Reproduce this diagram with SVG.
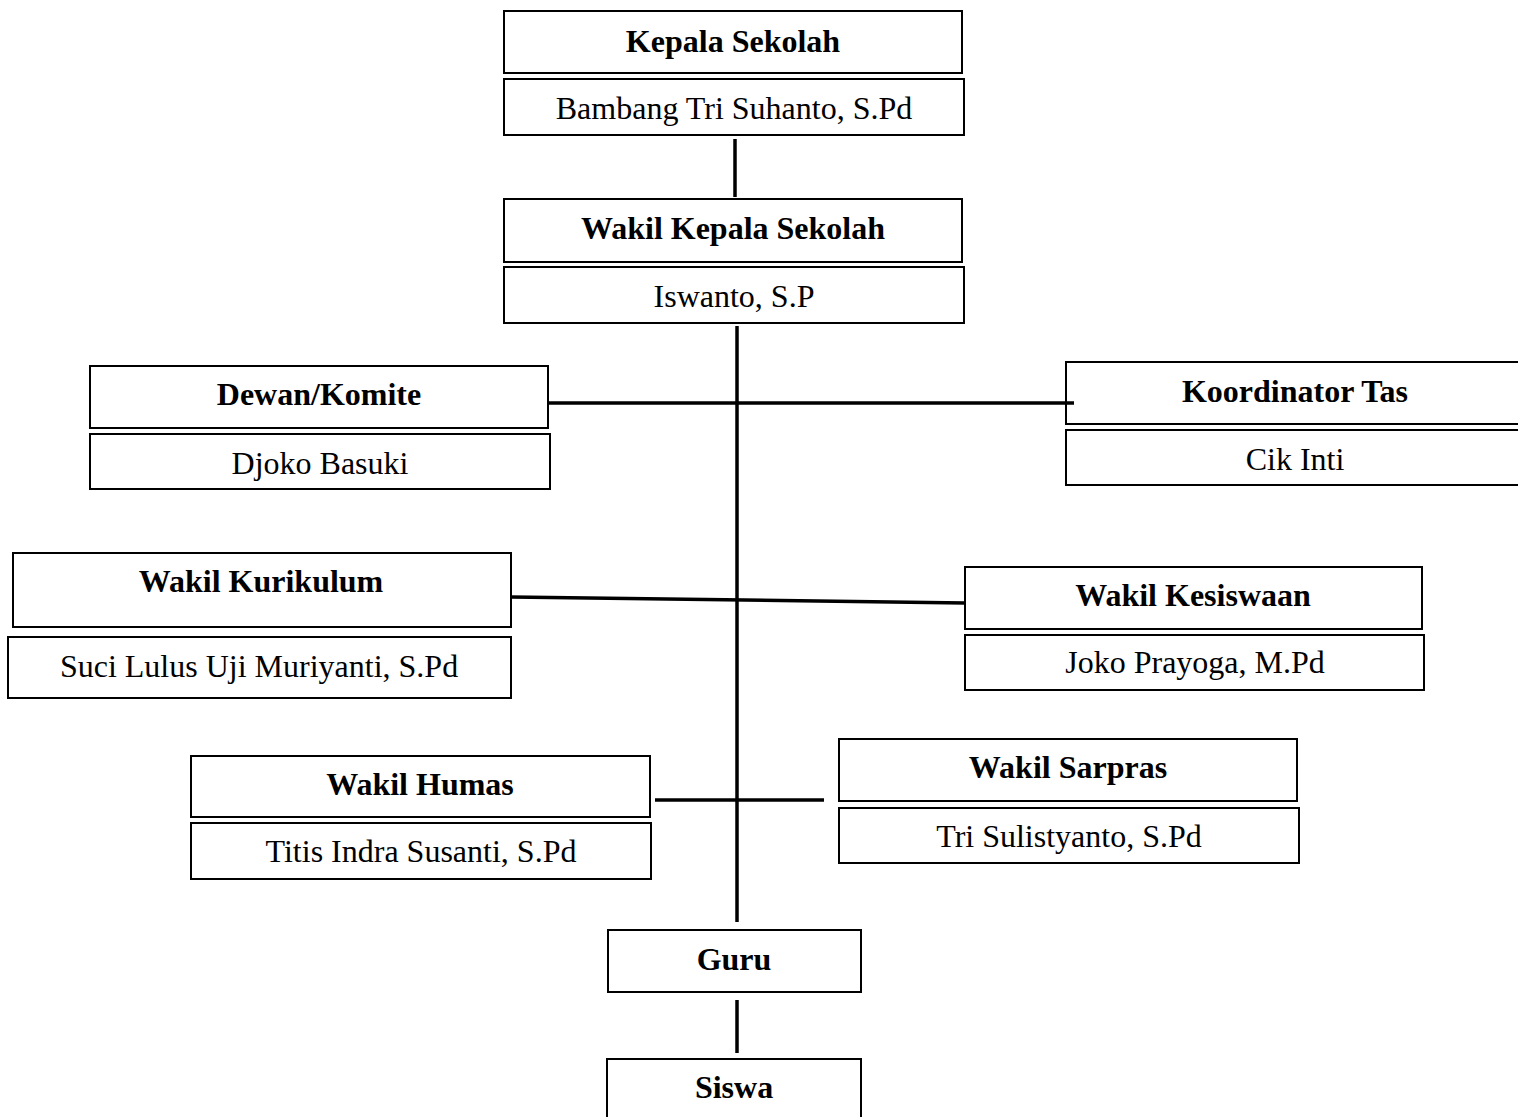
<svg xmlns="http://www.w3.org/2000/svg" width="1518" height="1117" viewBox="0 0 1518 1117">
<style>
rect.b{fill:#fff;stroke:#000;stroke-width:2}
text{font-family:"Liberation Serif","Times New Roman",serif;font-size:32px;fill:#000;text-anchor:middle}
text.t{font-weight:bold}
.c line{stroke:#000;stroke-width:3.5}
</style>
<rect width="1518" height="1117" fill="#fff"/>
<g id="kepala">
<rect class="b" x="504" y="11" width="458" height="62"/>
<text class="t" x="733" y="52">Kepala Sekolah</text>
<rect class="b" x="504" y="79" width="460" height="56"/>
<text x="734" y="119">Bambang Tri Suhanto, S.Pd</text>
</g>
<g id="wakil-kepala">
<rect class="b" x="504" y="199" width="458" height="63"/>
<text class="t" x="733" y="239">Wakil Kepala Sekolah</text>
<rect class="b" x="504" y="267" width="460" height="56"/>
<text x="734" y="307">Iswanto, S.P</text>
</g>
<g id="dewan">
<rect class="b" x="90" y="366" width="458" height="62"/>
<text class="t" x="319" y="405">Dewan/Komite</text>
<rect class="b" x="90" y="434" width="460" height="55"/>
<text x="320" y="474">Djoko Basuki</text>
</g>
<g id="koordinator">
<rect class="b" x="1066" y="362" width="470" height="62"/>
<text class="t" x="1295" y="402">Koordinator Tas</text>
<rect class="b" x="1066" y="430" width="470" height="55"/>
<text x="1295" y="470">Cik Inti</text>
</g>
<g id="kurikulum">
<rect class="b" x="13" y="553" width="498" height="74"/>
<text class="t" x="261" y="592">Wakil Kurikulum</text>
<rect class="b" x="8" y="637" width="503" height="61"/>
<text x="259" y="677">Suci Lulus Uji Muriyanti, S.Pd</text>
</g>
<g id="kesiswaan">
<rect class="b" x="965" y="567" width="457" height="62"/>
<text class="t" x="1193" y="606">Wakil Kesiswaan</text>
<rect class="b" x="965" y="635" width="459" height="55"/>
<text x="1195" y="673">Joko Prayoga, M.Pd</text>
</g>
<g id="humas">
<rect class="b" x="191" y="756" width="459" height="61"/>
<text class="t" x="420" y="795">Wakil Humas</text>
<rect class="b" x="191" y="823" width="460" height="56"/>
<text x="421" y="862">Titis Indra Susanti, S.Pd</text>
</g>
<g id="sarpras">
<rect class="b" x="839" y="739" width="458" height="62"/>
<text class="t" x="1068" y="778">Wakil Sarpras</text>
<rect class="b" x="839" y="808" width="460" height="55"/>
<text x="1069" y="847">Tri Sulistyanto, S.Pd</text>
</g>
<g id="guru">
<rect class="b" x="608" y="930" width="253" height="62"/>
<text class="t" x="734" y="970">Guru</text>
</g>
<g id="siswa">
<rect class="b" x="607" y="1059" width="254" height="70"/>
<text class="t" x="734" y="1098">Siswa</text>
</g>
<g class="c" id="connectors">
<line x1="735" y1="139" x2="735" y2="197"/>
<line x1="737" y1="326" x2="737" y2="922"/>
<line x1="549" y1="403" x2="1074" y2="403"/>
<line x1="511" y1="597" x2="965" y2="603"/>
<line x1="655" y1="800" x2="824" y2="800"/>
<line x1="737" y1="1000" x2="737" y2="1053"/>
</g>
</svg>
